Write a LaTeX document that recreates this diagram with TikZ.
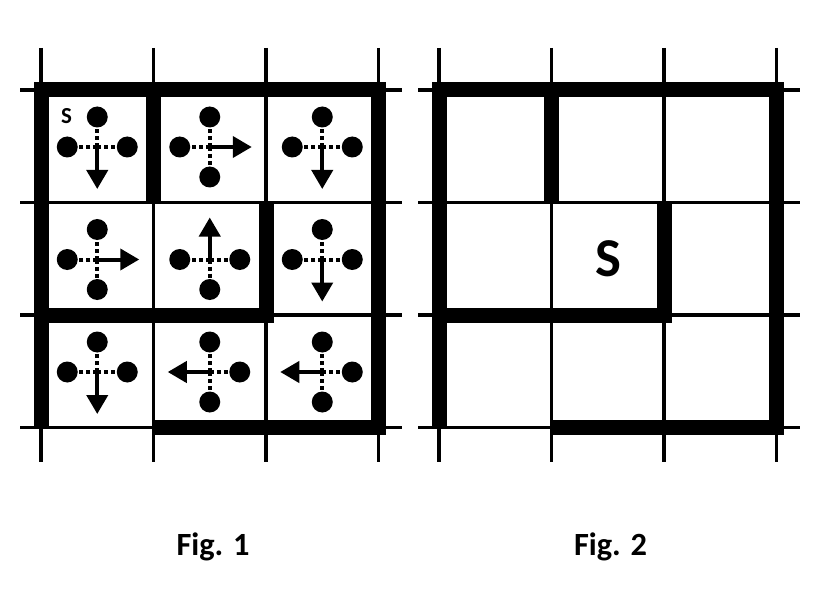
\documentclass[tikz,border=0pt]{standalone}
\usepackage{fontspec}
\setmainfont{Carlito}
\usetikzlibrary{arrows.meta}

\begin{document}
\begin{tikzpicture}[x=1bp,y=-1bp,
  grid/.style={line width=3.5bp},
  wall/.style={line width=15bp,line cap=butt,miter limit=2},
  probe/.style={line width=4bp,dash pattern=on 4bp off 3bp},
  move/.style={line width=4bp,-{Triangle[length=19bp,width=21bp]}},
  dot/.style={circle,fill,inner sep=0pt,minimum size=21bp},
  lbl/.style={font=\bfseries\fontsize{32.5}{38}\selectfont,anchor=base}]
\useasboundingbox (0,0) rectangle (818,615);
% the two mazes
\foreach \ox in {41,439}{
  \foreach \i in {0,...,3}{
    \draw[grid] (\ox+112.5*\i,48) -- (\ox+112.5*\i,462);
    \draw[grid] (\ox-21,90+112.5*\i) -- (\ox+361,90+112.5*\i);
  }
  \draw[wall] (\ox,427.5) -- (\ox,90) -- (\ox+337.5,90) -- (\ox+337.5,427.5) -- (\ox+112.5,427.5);
  \draw[wall] (\ox+112.5,90) -- (\ox+112.5,202.5);
  \draw[wall] (\ox+225,202.5) -- (\ox+225,315) -- (\ox,315);
}
% moves of Fig. 1
\foreach \c/\r/\ax/\ay in {0/0/0/1, 1/0/1/0, 2/0/0/1, 0/1/1/0, 1/1/0/-1, 2/1/0/1, 0/2/0/1, 1/2/-1/0, 2/2/-1/0}{
  \coordinate (m) at (97.25+112.5*\c,147+112.5*\r);
  \foreach \dx/\dy in {1/0,0/-1,-1/0,0/1}{
    \pgfmathtruncatemacro\hit{and(\dx==\ax,\dy==\ay)}
    \ifnum\hit=1
      \draw[move] (m) -- ++(\dx*42,\dy*42);
    \else
      \draw[probe] (m) -- ++(\dx*30,\dy*30) node[dot]{};
    \fi
  }
}
\node[font=\bfseries\fontsize{23}{27}\selectfont] (s1) at (66.5,116.5) {S};
\node[font=\bfseries\fontsize{55}{60}\selectfont] (s2) at (608.5,258.75) {S};
\node[lbl] (f1) at (213,555) {Fig. 1};
\node[lbl] (f2) at (610.5,555) {Fig. 2};
\end{tikzpicture}
\end{document}
